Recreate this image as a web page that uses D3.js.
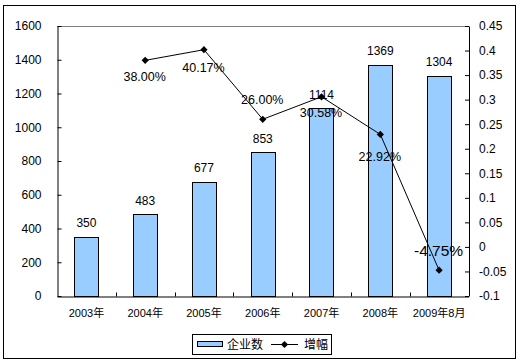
<!DOCTYPE html>
<html>
<head>
<meta charset="utf-8">
<script src="https://cdn.jsdelivr.net/npm/d3@7"></script>
<style>
  body { margin: 0; background: #fff; }
  svg { display: block; }
  text { font-family: "Liberation Sans", Arial, "Noto Sans CJK SC", sans-serif; fill: #000; }
  .cjk { font-family: "Noto Sans CJK SC", sans-serif; }
</style>
</head>
<body>
<svg width="525" height="362"></svg>
<script>
// data
var years = ["2003年", "2004年", "2005年", "2006年", "2007年", "2008年", "2009年8月"];
var counts = [350, 483, 677, 853, 1114, 1369, 1304];
var growth = [null, 0.38, 0.4017, 0.26, 0.3058, 0.2292, -0.0475];
var growthText = ["", "38.00%", "40.17%", "26.00%", "30.58%", "22.92%", "-4.75%"];
var leftTicks = [0, 200, 400, 600, 800, 1000, 1200, 1400, 1600];
var rightTicks = [-0.1, -0.05, 0, 0.05, 0.1, 0.15, 0.2, 0.25, 0.3, 0.35, 0.4, 0.45];

// label placement for the growth labels (offset of label centre from point)
var labelDy = [0, 16, 18, -20, 16, 22, -20];

var config = { l: 57, r: 468.5, t: 26, b: 296 };

var svg = d3.select("svg");

// outer frame
svg.append("rect")
  .attr("x", 3.5).attr("y", 5.5)
  .attr("width", 512).attr("height", 353)
  .attr("fill", "none").attr("stroke", "#000");

// scales
var x = d3.scaleBand().domain(years).range([config.l, config.r]).padding(0);
var yL = d3.scaleLinear().domain([0, 1600]).range([config.b, config.t]);
var yR = d3.scaleLinear().domain([-0.1, 0.45]).range([config.b, config.t]);
var barW = x.bandwidth() * 0.41;

// top border of the plot
svg.append("line")
  .attr("x1", config.l).attr("x2", config.r)
  .attr("y1", config.t + 0.5).attr("y2", config.t + 0.5)
  .attr("stroke", "#808080");

// bars
svg.append("g").selectAll("rect")
  .data(counts)
  .enter().append("rect")
    .attr("x", function(d, i) { return Math.round(x(years[i]) + x.bandwidth() / 2 - barW / 2) + 0.5; })
    .attr("y", function(d) { return Math.round(yL(d)) + 0.5; })
    .attr("width", Math.round(barW))
    .attr("height", function(d) { return config.b - Math.round(yL(d)); })
    .attr("fill", "#99ccff")
    .attr("stroke", "#000");

// bar labels
svg.append("g").selectAll("text")
  .data(counts)
  .enter().append("text")
    .attr("x", function(d, i) { return x(years[i]) + x.bandwidth() / 2; })
    .attr("y", function(d) { return yL(d) - 9.5; })
    .attr("text-anchor", "middle")
    .style("font-size", "12px")
    .text(function(d) { return d; });

// left axis
var leftAxis = d3.axisLeft(yL).tickValues(leftTicks).tickSizeInner(-4).tickSizeOuter(0).tickPadding(16)
  .tickFormat(d3.format("d"));
var gl = svg.append("g").attr("transform", "translate(" + (config.l + 0.5) + ",0)").call(leftAxis);

// right axis
var rightAxis = d3.axisRight(yR).tickValues(rightTicks).tickSizeInner(-4).tickSizeOuter(0).tickPadding(10)
  .tickFormat(function(d) { return String(+d.toFixed(2)); });
var gr = svg.append("g").attr("transform", "translate(" + (config.r + 0.5) + ",0)").call(rightAxis);

// bottom axis
var bottomAxis = d3.axisBottom(x).tickSize(0).tickPadding(13);
var gb = svg.append("g").attr("transform", "translate(0," + (config.b + 0.5) + ")").call(bottomAxis);
gb.selectAll(".tick line").remove();
// category separator ticks, pointing inward
gb.selectAll(".sep")
  .data(years.slice(1))
  .enter().append("line")
    .attr("x1", function(d) { return Math.round(x(d)) + 0.5; })
    .attr("x2", function(d) { return Math.round(x(d)) + 0.5; })
    .attr("y1", 0).attr("y2", -4)
    .attr("stroke", "#000");

[gl, gr, gb].forEach(function(g) {
  g.select(".domain").attr("stroke", "#000");
  g.selectAll(".tick line").attr("stroke", "#000");
  g.selectAll("text").style("font-size", "12px")
    .style("font-family", "\"Liberation Sans\", Arial, \"Noto Sans CJK SC\", sans-serif")
    .attr("fill", "#000");
});
gb.selectAll("text").style("font-size", "11px");

// growth line
var pts = growth.map(function(d, i) { return { v: d, i: i }; }).filter(function(d) { return d.v !== null; });
var line = d3.line()
  .x(function(d) { return x(years[d.i]) + x.bandwidth() / 2; })
  .y(function(d) { return yR(d.v); });

svg.append("path")
  .datum(pts)
  .attr("d", line)
  .attr("fill", "none")
  .attr("stroke", "#000")
  .attr("stroke-width", 1);

var marker = d3.symbol().type(d3.symbolSquare).size(26);
svg.append("g").selectAll("path")
  .data(pts)
  .enter().append("path")
    .attr("d", marker)
    .attr("transform", function(d) {
      return "translate(" + (x(years[d.i]) + x.bandwidth() / 2) + "," + yR(d.v) + ") rotate(45)";
    })
    .attr("fill", "#000");

// growth labels
svg.append("g").selectAll("text")
  .data(pts)
  .enter().append("text")
    .attr("x", function(d) { return x(years[d.i]) + x.bandwidth() / 2 - 0.5; })
    .attr("y", function(d) { return yR(d.v) + labelDy[d.i]; })
    .attr("dy", "0.35em")
    .attr("text-anchor", "middle")
    .style("font-size", function(d) { return d.i === 6 ? "15.5px" : "12.5px"; })
    .text(function(d) { return growthText[d.i]; });

// legend
var leg = svg.append("g").attr("id", "legend");
leg.append("rect")
  .attr("x", 192.5).attr("y", 334.5)
  .attr("width", 139).attr("height", 20)
  .attr("fill", "#fff").attr("stroke", "#000");
leg.append("rect")
  .attr("x", 197.5).attr("y", 341.5)
  .attr("width", 25).attr("height", 5)
  .attr("fill", "#99ccff").attr("stroke", "#000");
leg.append("text")
  .attr("x", 227).attr("y", 349)
  .attr("class", "cjk")
  .style("font-size", "12px")
  .text("企业数");
leg.append("line")
  .attr("x1", 271).attr("x2", 298)
  .attr("y1", 344.5).attr("y2", 344.5)
  .attr("stroke", "#000");
leg.append("path")
  .attr("d", marker)
  .attr("transform", "translate(284.5,344.5) rotate(45)")
  .attr("fill", "#000");
leg.append("text")
  .attr("x", 304).attr("y", 349)
  .attr("class", "cjk")
  .style("font-size", "12px")
  .text("增幅");
</script>
</body>
</html>
